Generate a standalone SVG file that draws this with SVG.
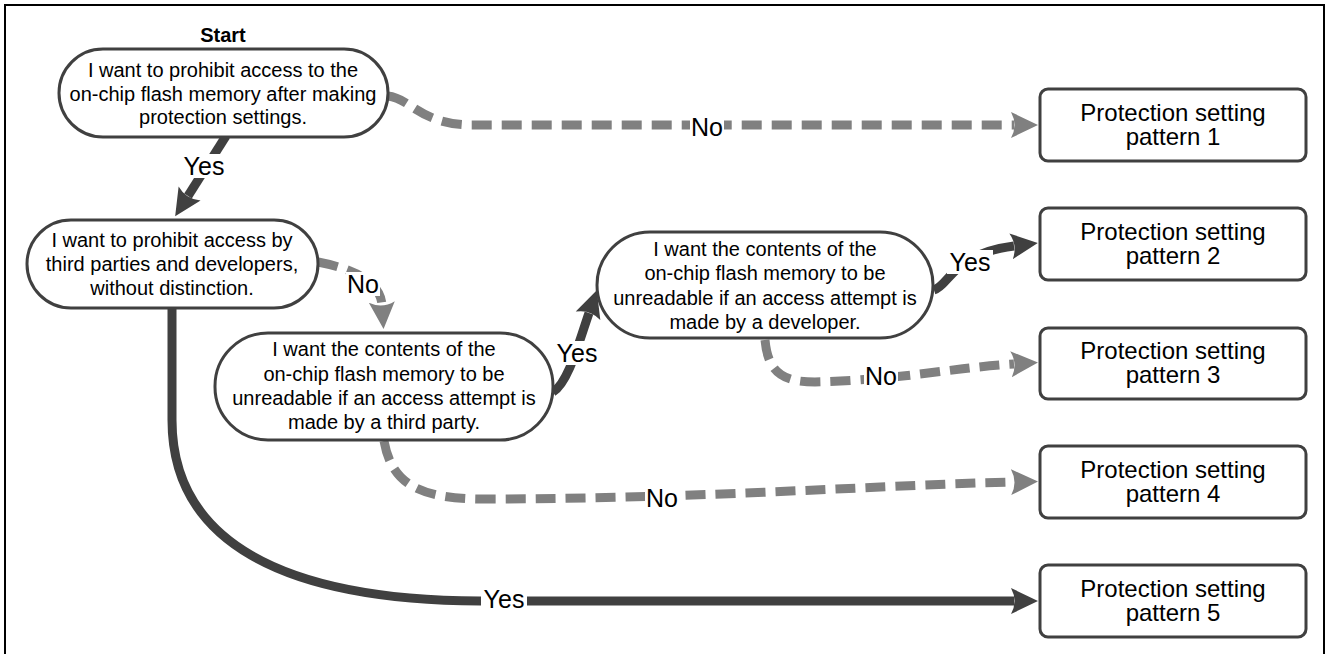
<svg xmlns="http://www.w3.org/2000/svg" width="1328" height="654" viewBox="0 0 1328 654">
<style>
.frame{fill:none;stroke:#000;stroke-width:2}
.dec{fill:#fff;stroke:#404040;stroke-width:3}
.box{fill:#fff;stroke:#404040;stroke-width:3}
.t{font-family:"Liberation Sans",Arial,sans-serif;font-size:20px;fill:#000;text-anchor:middle}
.tb{font-family:"Liberation Sans",Arial,sans-serif;font-size:24px;fill:#000;text-anchor:middle}
.st{font-family:"Liberation Sans",Arial,sans-serif;font-size:20px;font-weight:bold;fill:#000;text-anchor:middle}
.lbl{font-family:"Liberation Sans",Arial,sans-serif;font-size:25px;fill:#000;text-anchor:middle}
.lbg{fill:#fff;stroke:none}
.yes{fill:none;stroke:#404040;stroke-width:9}
.no{fill:none;stroke:#808080;stroke-width:9;stroke-dasharray:20 10}
</style>
<defs>
<marker id="ad" viewBox="0 -14 28 28" refX="3" refY="0" markerWidth="28" markerHeight="28" markerUnits="userSpaceOnUse" orient="auto">
<path d="M0,-13 L27,0 L0,13 Q7,0 0,-13 Z" fill="#404040"/>
</marker>
<marker id="ag" viewBox="0 -14 28 28" refX="3" refY="0" markerWidth="28" markerHeight="28" markerUnits="userSpaceOnUse" orient="auto">
<path d="M0,-13 L27,0 L0,13 Q7,0 0,-13 Z" fill="#808080"/>
</marker>
</defs>
<rect class="frame" x="5" y="5" width="1319" height="660"/>
<g id="connectors">
<path class="no" d="M388,96 C410,98 420,124 470,125 L1014,125" marker-end="url(#ag)"/>
<path class="yes" d="M226,136 L188,196" marker-end="url(#ad)"/>
<path class="no" d="M318,262 Q380,274 382,305" marker-end="url(#ag)"/>
<path class="yes" d="M553,392 C568,383 578,345 589,313" marker-end="url(#ad)"/>
<path class="yes" d="M934,290 C950,285 952,254 1014,246" marker-end="url(#ad)"/>
<path class="no" d="M765,340 C768,372 782,382 815,382 C900,380 950,368 1014,364" marker-end="url(#ag)"/>
<path class="no" d="M384,441 C392,485 420,498 480,499 C700,499 900,484 1014,482" marker-end="url(#ag)"/>
<path class="yes" d="M172,308 L172,420 C172,540 280,600 480,601 L1014,601" marker-end="url(#ad)"/>
<rect class="lbg" x="690" y="115" width="34" height="24"/>
<text class="lbl" x="707" y="136">No</text>
<rect class="lbg" x="181" y="154" width="46" height="24"/>
<text class="lbl" x="204" y="175">Yes</text>
<rect class="lbg" x="346" y="272" width="34" height="24"/>
<text class="lbl" x="363" y="293">No</text>
<rect class="lbg" x="554" y="341" width="46" height="24"/>
<text class="lbl" x="577" y="362">Yes</text>
<rect class="lbg" x="947" y="250" width="46" height="24"/>
<text class="lbl" x="970" y="271">Yes</text>
<rect class="lbg" x="864" y="364" width="34" height="24"/>
<text class="lbl" x="881" y="385">No</text>
<rect class="lbg" x="645" y="486" width="34" height="24"/>
<text class="lbl" x="662" y="507">No</text>
<rect class="lbg" x="481" y="587" width="46" height="24"/>
<text class="lbl" x="504" y="608">Yes</text>
</g>
<g id="start">
<text class="st" x="223" y="42">Start</text>
<rect class="dec" x="59" y="49" width="329" height="88" rx="44"/>
<text class="t" x="223" y="77">I want to prohibit access to the</text>
<text class="t" x="223" y="100.5">on-chip flash memory after making</text>
<text class="t" x="223" y="124">protection settings.</text>
</g>
<g id="q2">
<rect class="dec" x="27" y="220" width="291" height="88" rx="44"/>
<text class="t" x="172" y="247">I want to prohibit access by</text>
<text class="t" x="172" y="271">third parties and developers,</text>
<text class="t" x="172" y="295">without distinction.</text>
</g>
<g id="q3">
<rect class="dec" x="215" y="333" width="338" height="107" rx="53"/>
<text class="t" x="384" y="356">I want the contents of the</text>
<text class="t" x="384" y="380.5">on-chip flash memory to be</text>
<text class="t" x="384" y="405">unreadable if an access attempt is</text>
<text class="t" x="384" y="429">made by a third party.</text>
</g>
<g id="q4">
<rect class="dec" x="597" y="232" width="336" height="106" rx="53"/>
<text class="t" x="765" y="256">I want the contents of the</text>
<text class="t" x="765" y="280">on-chip flash memory to be</text>
<text class="t" x="765" y="304.5">unreadable if an access attempt is</text>
<text class="t" x="765" y="329">made by a developer.</text>
</g>
<g id="p1">
<rect class="box" x="1040" y="89" width="266" height="72" rx="8"/>
<text class="tb" x="1173" y="121">Protection setting</text>
<text class="tb" x="1173" y="145">pattern 1</text>
</g>
<g id="p2">
<rect class="box" x="1040" y="208" width="266" height="72" rx="8"/>
<text class="tb" x="1173" y="240">Protection setting</text>
<text class="tb" x="1173" y="264">pattern 2</text>
</g>
<g id="p3">
<rect class="box" x="1040" y="328" width="266" height="71" rx="8"/>
<text class="tb" x="1173" y="359">Protection setting</text>
<text class="tb" x="1173" y="383">pattern 3</text>
</g>
<g id="p4">
<rect class="box" x="1040" y="446" width="266" height="72" rx="8"/>
<text class="tb" x="1173" y="478">Protection setting</text>
<text class="tb" x="1173" y="502">pattern 4</text>
</g>
<g id="p5">
<rect class="box" x="1040" y="565" width="266" height="72" rx="8"/>
<text class="tb" x="1173" y="597">Protection setting</text>
<text class="tb" x="1173" y="621">pattern 5</text>
</g>
</svg>
